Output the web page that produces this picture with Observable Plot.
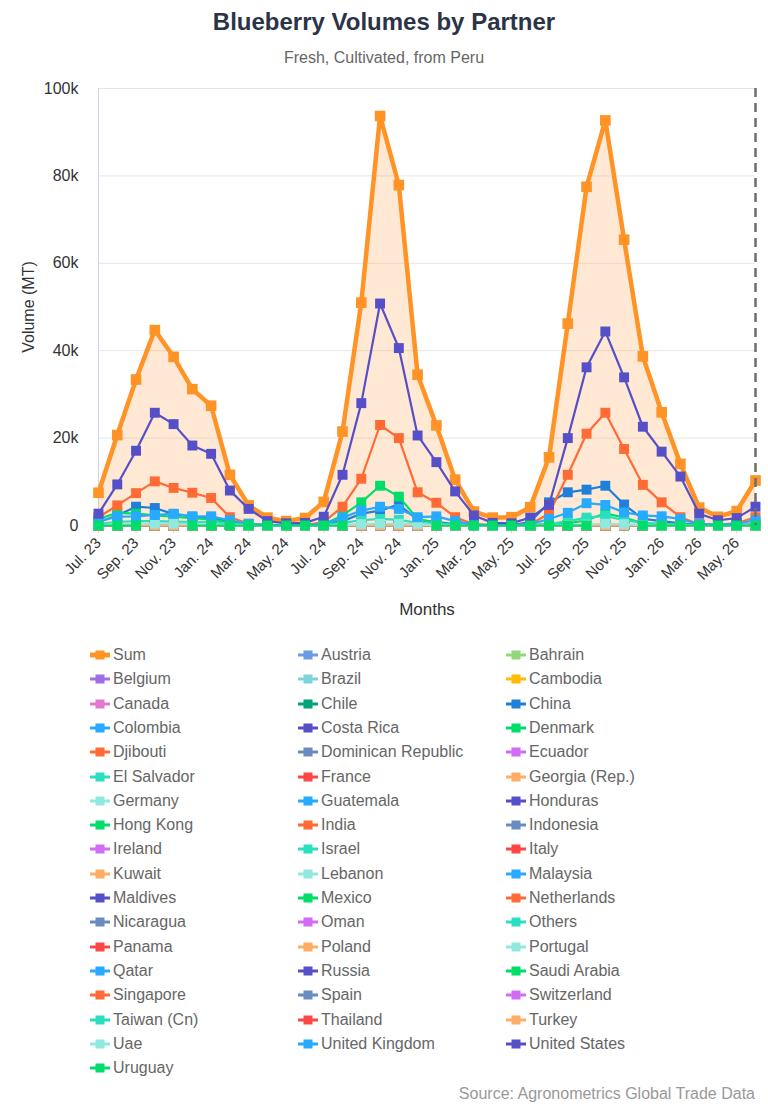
<!DOCTYPE html>
<html>
<head>
<meta charset="utf-8">
<script src="https://cdn.jsdelivr.net/npm/d3@7"></script>
<script src="https://cdn.jsdelivr.net/npm/@observablehq/plot@0.6"></script>
<style>
  body { margin: 0; background: #fff; font-family: "Liberation Sans", Arial, Helvetica, sans-serif; }
  #wrap { width: 768px; height: 1106px; position: relative; overflow: hidden; }
  h1 { margin: 0; height: 44px; line-height: 44px; text-align: center; font-size: 24px; font-weight: bold; color: #2b3446; }
  .sub { height: 28px; line-height: 28px; text-align: center; font-size: 16px; color: #666; }
  #chart svg { display: block; overflow: visible; }
  #legend { position: relative; height: 476px; }
  .item { position: absolute; height: 24px; line-height: 24px; font-size: 16px; color: #666; white-space: nowrap; }
  .item svg { position: absolute; left: 0; top: 6px; }
  .item span { position: absolute; left: 23px; top: 0; }
  .source { position: absolute; right: 13px; top: 454px; height: 20px; line-height: 20px; font-size: 16px; color: #999; }
</style>
</head>
<body>
<div id="wrap">
  <h1>Blueberry Volumes by Partner</h1>
  <div class="sub">Fresh, Cultivated, from Peru</div>
  <div id="chart"></div>
  <div id="legend"><div class="source">Source: Agronometrics Global Trade Data</div></div>
</div>
<script>
// Monthly export volumes (MT), July 2023 – June 2026
const months = ["Jul. 23","Aug. 23","Sep. 23","Oct. 23","Nov. 23","Dec. 23","Jan. 24","Feb. 24","Mar. 24","Apr. 24","May. 24","Jun. 24",
  "Jul. 24","Aug. 24","Sep. 24","Oct. 24","Nov. 24","Dec. 24","Jan. 25","Feb. 25","Mar. 25","Apr. 25","May. 25","Jun. 25",
  "Jul. 25","Aug. 25","Sep. 25","Oct. 25","Nov. 25","Dec. 25","Jan. 26","Feb. 26","Mar. 26","Apr. 26","May. 26","Jun. 26"];
const tickLabels = ["Jul. 23","Sep. 23","Nov. 23","Jan. 24","Mar. 24","May. 24","Jul. 24","Sep. 24","Nov. 24","Jan. 25",
  "Mar. 25","May. 25","Jul. 25","Sep. 25","Nov. 25","Jan. 26","Mar. 26","May. 26"];
const yTicks = [0, 20000, 40000, 60000, 80000, 100000];

const partners = ["Sum","Austria","Bahrain","Belgium","Brazil","Cambodia","Canada","Chile","China","Colombia","Costa Rica",
  "Denmark","Djibouti","Dominican Republic","Ecuador","El Salvador","France","Georgia (Rep.)","Germany","Guatemala","Honduras",
  "Hong Kong","India","Indonesia","Ireland","Israel","Italy","Kuwait","Lebanon","Malaysia","Maldives","Mexico","Netherlands",
  "Nicaragua","Oman","Others","Panama","Poland","Portugal","Qatar","Russia","Saudi Arabia","Singapore","Spain","Switzerland",
  "Taiwan (Cn)","Thailand","Turkey","Uae","United Kingdom","United States","Uruguay"];

const sum = [7500,20700,33400,44700,38600,31200,27400,11600,4600,1800,1000,1700,
  5400,21500,51000,93700,77900,34500,22900,10500,3200,1800,1900,4200,
  15600,46200,77500,92700,65400,38700,25900,14100,4100,2000,3300,10300];
const unitedStates = [2700,9400,17100,25800,23200,18300,16400,8000,3800,1000,500,600,
  2000,11600,28000,50800,40600,20600,14500,7800,2300,600,500,1800,
  4700,20000,36200,44400,33900,22600,16900,11200,2700,1200,1700,4300];
const netherlands = [1900,4600,7400,10100,8600,7500,6300,1900,400,100,100,100,
  800,4300,10700,23000,20000,7600,5200,1900,300,100,100,300,
  2700,11600,21000,25800,17500,9300,5300,1900,300,200,500,1900];
const china = [800,2300,4300,4000,2600,2000,1700,900,200,100,100,100,
  300,1000,2700,3400,4800,1300,800,300,100,100,100,800,
  5300,7600,8200,9100,4800,1500,1000,500,200,100,100,300];
const unitedKingdom = [1000,2000,2100,2400,2700,2100,2100,1200,400,100,100,100,
  300,1800,3400,4300,3800,1900,2100,1000,200,100,100,300,
  1500,2900,5100,4700,3000,2300,2100,1500,300,200,400,1200];
const hongKong = [1500,2900,2700,2300,2000,1700,1400,600,200,100,100,100,
  300,2300,5300,9100,6600,1500,500,200,100,100,100,100,
  300,500,1200,2800,1800,500,300,200,100,100,100,100];
const others = [400,800,1000,1000,900,800,700,400,200,100,100,100,
  200,600,1200,1500,1300,600,400,200,100,100,100,100,
  300,1000,1800,2200,1200,600,400,200,100,100,100,200];
const uae = [100,200,300,400,400,300,200,100,0,0,0,0,
  0,100,300,400,400,300,100,0,0,0,0,0,
  0,100,200,400,300,100,0,0,0,0,0,0];
// months with no Uruguay record are left empty
const uruguay = [0,0,0,null,null,0,0,0,0,0,0,0,
  0,0,null,null,null,null,0,0,0,0,0,0,
  0,0,0,null,null,0,0,0,0,0,0,0];
// remaining partners ship negligible volumes every month
const negligible = [0,0,0,0,0,0,0,0,0,0,0,0,
  0,0,0,0,0,0,0,0,0,0,0,0,
  0,0,0,0,0,0,0,0,0,0,0,0];

const volumes = new Map([
  ["Sum", sum], ["United States", unitedStates], ["Netherlands", netherlands], ["China", china],
  ["United Kingdom", unitedKingdom], ["Hong Kong", hongKong], ["Others", others], ["Uae", uae], ["Uruguay", uruguay]
]);

// series colours: nine leading colours, then a repeating ten-colour cycle
const leadColors = ["#ff9326","#6b9be0","#8fd97c","#9d6ee8","#7fd3dc","#ffbc00","#e07ad0","#00a37a","#1f7fd9"];
const cycleColors = ["#27aaff","#554fc8","#00dd6a","#ff6a35","#6a8bc0","#d26cf7","#2adfc0","#ff4646","#ffad66","#8fe9de"];
const colorOf = k => k < leadColors.length ? leadColors[k] : cycleColors[(k - leadColors.length) % cycleColors.length];

const rowsOf = name => (volumes.get(name) || negligible).map((v, i) => ({ i, v }));

const seriesMarks = partners.flatMap((name, k) => {
  const rows = rowsOf(name);
  const c = colorOf(k);
  const isSum = name === "Sum";
  const marks = [];
  if (isSum) marks.push(Plot.areaY(rows, { x: "i", y: "v", fill: c, fillOpacity: 0.2 }));
  marks.push(Plot.line(rows, { x: "i", y: "v", stroke: c, strokeWidth: isSum ? 4.5 : 2.2, strokeLinejoin: "round" }));
  marks.push(Plot.dot(rows, { x: "i", y: "v", symbol: "square", r: isSum ? 6 : 5.6, fill: c, stroke: "none" }));
  return marks;
});

const fmtK = d => d === 0 ? "0" : `${d / 1000}k`;

const chart = Plot.plot({
  width: 768,
  height: 558,
  marginTop: 16,
  marginLeft: 98,
  marginRight: 13,
  marginBottom: 105,
  style: { fontFamily: "Liberation Sans, Arial, Helvetica, sans-serif", fontSize: "15px", overflow: "visible" },
  x: { domain: [0, months.length - 1] },
  y: { domain: [0, 100000] },
  marks: [
    Plot.gridY(yTicks, { stroke: "#e6e6e6", strokeOpacity: 1 }),
    Plot.ruleX([0], { stroke: "#ccd6eb" }),
    Plot.ruleY([0], { stroke: "#ccd6eb" }),
    Plot.axisY(yTicks, { tickSize: 0, tickPadding: 20, tickFormat: fmtK, fontSize: 16, fill: "#333", label: null }),
    Plot.axisX(tickLabels.map(t => months.indexOf(t)), {
      tickSize: 8, tickPadding: 7, tickRotate: -45, tickFormat: i => months[i],
      fontSize: 15, stroke: "#ccd6eb", fill: "#333", label: null
    }),
    Plot.text(["Volume (MT)"], { frameAnchor: "left", textAnchor: "middle", dx: -70, rotate: -90, fontSize: 16, fill: "#333" }),
    Plot.text(["Months"], { frameAnchor: "bottom", dy: 89, fontSize: 17, fill: "#333" }),
    ...seriesMarks,
    Plot.ruleX([months.length - 1], { stroke: "#6e6e6e", strokeWidth: 2.5, strokeDasharray: "9,6" })
  ]
});
document.getElementById("chart").appendChild(chart);

// legend: three columns, line-and-square symbols
const legend = d3.select("#legend");
const colX = [90, 298, 506];
partners.forEach((name, k) => {
  const c = colorOf(k);
  const item = legend.append("div").attr("class", "item")
    .style("left", colX[k % 3] + "px")
    .style("top", (13 + 24.3 * Math.floor(k / 3)) + "px");
  const s = item.append("svg").attr("width", 20).attr("height", 12);
  s.append("line").attr("x1", 0).attr("x2", 20).attr("y1", 6).attr("y2", 6)
    .attr("stroke", c).attr("stroke-width", name === "Sum" ? 5 : 3).attr("stroke-linecap", "round");
  s.append("rect").attr("x", 5.5).attr("y", 1.5).attr("width", 9).attr("height", 9).attr("fill", c);
  item.append("span").text(name);
});
</script>
</body>
</html>
